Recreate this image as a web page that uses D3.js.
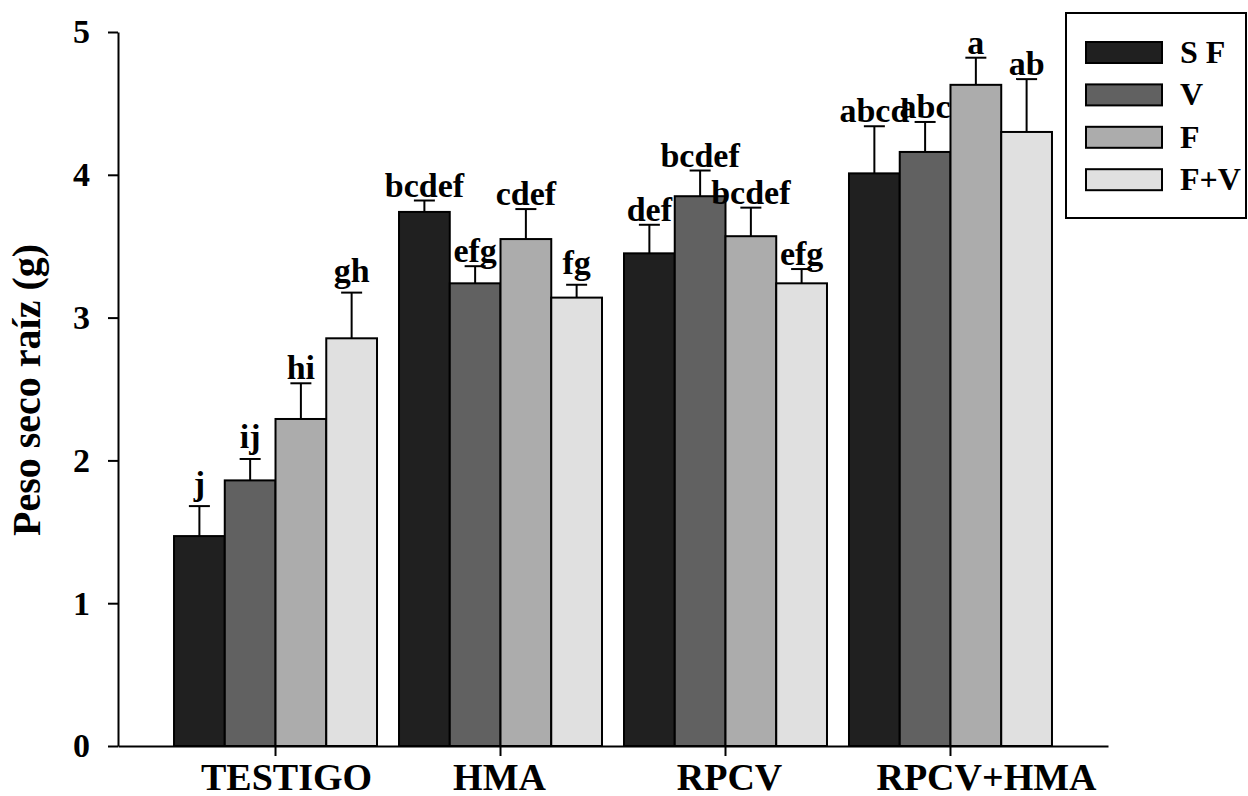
<!DOCTYPE html>
<html>
<head>
<meta charset="utf-8">
<script src="https://cdn.jsdelivr.net/npm/d3@7"></script>
<style>
  html, body { margin: 0; padding: 0; background: #fff; }
  svg { display: block; }
  text { font-family: "Liberation Serif", "Times New Roman", serif; font-weight: bold; fill: #000; }
</style>
</head>
<body>
<svg id="chart" width="1248" height="796"></svg>
<script>
// Treatments and fertilisation series
const categories = ["TESTIGO", "HMA", "RPCV", "RPCV+HMA"];
const seriesNames = ["S F", "V", "F", "F+V"];

// Mean root dry weight (g) per series, in category order
const meanSF = [1.47, 3.74, 3.45, 4.01];
const meanV  = [1.86, 3.24, 3.85, 4.16];
const meanF  = [2.29, 3.55, 3.57, 4.63];
const meanFV = [2.855, 3.14, 3.24, 4.30];

// Standard errors
const errSF = [0.21, 0.08, 0.20, 0.33];
const errV  = [0.15, 0.12, 0.18, 0.21];
const errF  = [0.25, 0.21, 0.20, 0.19];
const errFV = [0.32, 0.09, 0.10, 0.37];

// Significance letters
const lettersSF = ["j", "bcdef", "def", "abcd"];
const lettersV  = ["ij", "efg", "bcdef", "abc"];
const lettersF  = ["hi", "cdef", "bcdef", "a"];
const lettersFV = ["gh", "fg", "efg", "ab"];

const yTicks = [0, 1, 2, 3, 4, 5];

// Styling / layout
const fills = ["#202020", "#616161", "#acacac", "#e0e0e0"];
const categoryLabelNudge = [11, -1, 4, 36];
const letterSize = 34;

const means = [meanSF, meanV, meanF, meanFV];
const errs = [errSF, errV, errF, errFV];
const letters = [lettersSF, lettersV, lettersF, lettersFV];

const svg = d3.select("#chart");

const x0 = d3.scaleBand()
  .domain(categories)
  .range([118, 1108])
  .paddingInner(0.0978)
  .paddingOuter(0.249);

const x1 = d3.scaleBand()
  .domain(seriesNames)
  .range([0, x0.bandwidth()])
  .padding(0);

const y = d3.scaleLinear().domain([0, 5]).range([746, 32]);

// Flatten into bar records
const bars = [];
seriesNames.forEach((s, si) => {
  categories.forEach((c, ci) => {
    bars.push({ series: s, si, cat: c, v: means[si][ci], e: errs[si][ci], label: letters[si][ci] });
  });
});

const g = svg.append("g");

// Error bars (upper only)
const eb = g.append("g").attr("stroke", "#000").attr("stroke-width", 2);
bars.forEach(d => {
  const cx = x0(d.cat) + x1(d.series) + x1.bandwidth() / 2;
  eb.append("line")
    .attr("x1", cx).attr("x2", cx)
    .attr("y1", y(d.v)).attr("y2", y(d.v + d.e));
  eb.append("line")
    .attr("x1", cx - 10.5).attr("x2", cx + 10.5)
    .attr("y1", y(d.v + d.e)).attr("y2", y(d.v + d.e));
});

// Bars
g.append("g")
  .selectAll("rect")
  .data(bars)
  .join("rect")
  .attr("x", d => x0(d.cat) + x1(d.series))
  .attr("y", d => y(d.v))
  .attr("width", x1.bandwidth())
  .attr("height", d => y(0) - y(d.v))
  .attr("fill", d => fills[d.si])
  .attr("stroke", "#000")
  .attr("stroke-width", 2);

// Letters above the error bars; lift those with descenders so they clear the cap
g.append("g")
  .selectAll("text")
  .data(bars)
  .join("text")
  .attr("x", d => x0(d.cat) + x1(d.series) + x1.bandwidth() / 2)
  .attr("y", d => y(d.v + d.e) - 4 - (/[gj]/.test(d.label) && d.label !== "efg" ? letterSize * 0.2 : 0))
  .attr("text-anchor", "middle")
  .attr("font-size", letterSize)
  .text(d => d.label);

// Y axis
const yAxis = svg.append("g")
  .attr("transform", "translate(118,0)")
  .call(d3.axisLeft(y).tickValues(yTicks).tickFormat(d3.format("d")).tickSize(10).tickSizeOuter(0).tickPadding(18));
yAxis.selectAll("path, line").attr("stroke", "#000").attr("stroke-width", 2);
yAxis.selectAll("text")
  .attr("font-size", 34)
  .attr("font-family", "\"Liberation Serif\", \"Times New Roman\", serif")
  .attr("font-weight", "bold")
  .attr("fill", "#000");

// X axis
const xAxis = svg.append("g")
  .attr("transform", "translate(0,746)")
  .call(d3.axisBottom(x0).tickSize(10).tickSizeOuter(0).tickPadding(7));
xAxis.selectAll("path, line").attr("stroke", "#000").attr("stroke-width", 2);
xAxis.selectAll("text")
  .attr("font-size", 38)
  .attr("font-family", "\"Liberation Serif\", \"Times New Roman\", serif")
  .attr("font-weight", "bold")
  .attr("fill", "#000")
  .attr("dx", (d, i) => categoryLabelNudge[i]);

// Y axis title
svg.append("text")
  .attr("transform", "translate(40,390) rotate(-90)")
  .attr("text-anchor", "middle")
  .attr("font-size", 40)
  .text("Peso seco raíz (g)");

// Legend
const legend = svg.append("g");
legend.append("rect")
  .attr("x", 1066).attr("y", 13)
  .attr("width", 180).attr("height", 205)
  .attr("fill", "#fff").attr("stroke", "#000").attr("stroke-width", 2);

const items = legend.selectAll("g.item")
  .data(seriesNames)
  .join("g")
  .attr("class", "item")
  .attr("transform", (d, i) => `translate(1086,${42 + i * 42.4})`);
items.append("rect")
  .attr("width", 76).attr("height", 21)
  .attr("fill", (d, i) => fills[i])
  .attr("stroke", "#000").attr("stroke-width", 2);
items.append("text")
  .attr("x", 94).attr("y", 21)
  .attr("font-size", 32)
  .text(d => d);
</script>
</body>
</html>
